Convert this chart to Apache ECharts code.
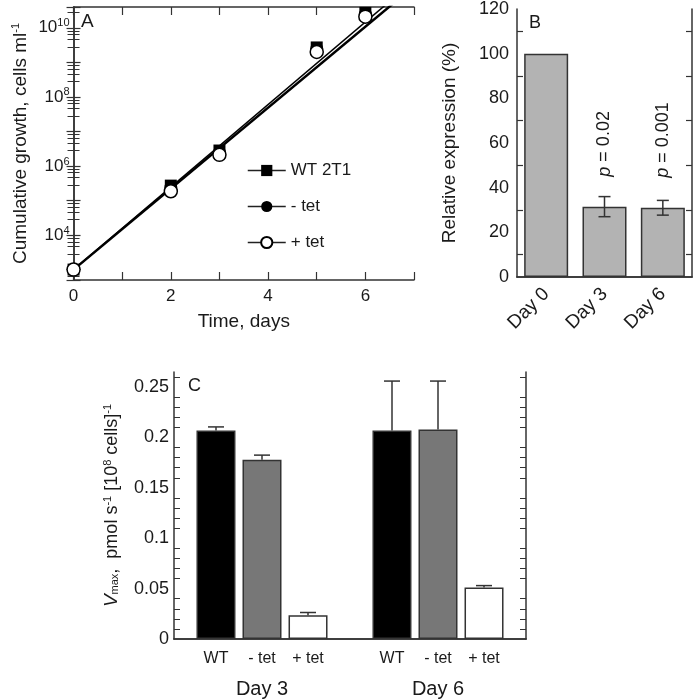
<!DOCTYPE html>
<html>
<head>
<meta charset="utf-8">
<script src="https://cdn.jsdelivr.net/npm/echarts@6/dist/echarts.min.js"></script>
<style>
  html, body { margin: 0; padding: 0; background: #fff; }
  #chart { width: 693px; height: 700px; }
</style>
</head>
<body>
<div id="chart"></div>
<script>
// panel A: cumulative growth (log scale)
var days = [0, 2, 3, 5, 6];
var wtCells = [1000, 2.7e5, 2.8e6, 2.7e9, 2.7e10];
var minusTetCells = [1000, 2.4e5, 2.5e6, 2.5e9, 2.5e10];
var plusTetCells = [1000, 1.85e5, 2.1e6, 2.0e9, 2.1e10];
// fit lines, end points
var fitUpper = [[0, 1000], [7, 2.3e11]];
var fitLower = [[0, 1000], [7, 1.6e11]];

// panel B: relative expression
var bDays = ['Day 0', 'Day 3', 'Day 6'];
var relExpr = [100, 31.5, 31];
var relErr = [0, 4.5, 3.3];
var pLabels = ['', '0.02', '0.001'];

// panel C: Vmax
var cDays = ['Day 3', 'Day 6'];
var vmaxWT = [0.207, 0.207];
var vmaxMinus = [0.178, 0.208];
var vmaxPlus = [0.0235, 0.051];
var errWT = [0.0035, 0.049];
var errMinus = [0.0045, 0.048];
var errPlus = [0.0028, 0.002];

var FONT = 'Liberation Sans, Arial, Helvetica, sans-serif';
var INK = '#1a1a1a';
var AX = '#333';

var myChart = echarts.init(document.getElementById('chart'));
var option;

function pairs(xs, ys) {
  return xs.map(function (x, i) { return [x, ys[i]]; });
}

// only 10^even gets a label
function evenPow10(v) {
  var l = Math.log10(v);
  var e = Math.round(l);
  return Math.abs(l - e) < 1e-6 && e % 2 === 0 ? e : null;
}

// error bar drawer, offset in px from category centre
function errBars(offset, capW, twoSided) {
  return function (params, api) {
    var x = api.value(0);
    var lo = api.coord([x, api.value(1)]);
    var hi = api.coord([x, api.value(2)]);
    var cx = lo[0] + offset;
    var st = { stroke: AX, lineWidth: 1.5 };
    var kids = [
      { type: 'line', shape: { x1: cx, y1: lo[1], x2: cx, y2: hi[1] }, style: st },
      { type: 'line', shape: { x1: cx - capW / 2, y1: hi[1], x2: cx + capW / 2, y2: hi[1] }, style: st }
    ];
    if (twoSided) {
      kids.push({ type: 'line', shape: { x1: cx - capW / 2, y1: lo[1], x2: cx + capW / 2, y2: lo[1] }, style: st });
    }
    return { type: 'group', children: kids };
  };
}

var supRich = {
  sup: { fontSize: 11, fontFamily: FONT, color: INK, padding: [0, 0, 9, 0] }
};

function axisBox(extra) {
  return Object.assign({
    axisLine: { show: true, lineStyle: { color: AX, width: 1.5 } },
    splitLine: { show: false }
  }, extra);
}

var logY = {
  type: 'log', logBase: 10, min: 500, max: 4e10, splitNumber: 4,
  gridIndex: 0
};

option = {
  animation: false,
  backgroundColor: '#fff',
  textStyle: { fontFamily: FONT, color: INK },
  title: [
    { text: 'A', left: 81, top: 12, padding: 0, textStyle: { fontSize: 19, fontWeight: 'normal', color: INK, fontFamily: FONT } },
    { text: 'B', left: 529, top: 14, padding: 0, textStyle: { fontSize: 18, fontWeight: 'normal', color: INK, fontFamily: FONT } },
    { text: 'C', left: 188, top: 377, padding: 0, textStyle: { fontSize: 18, fontWeight: 'normal', color: INK, fontFamily: FONT } }
  ],
  legend: {
    data: ['WT 2T1', '- tet', '+ tet'],
    orient: 'vertical',
    left: 242, top: 157,
    itemWidth: 38, itemHeight: 14, itemGap: 19,
    textStyle: { fontSize: 17, color: INK, fontFamily: FONT },
    lineStyle: { color: '#222', width: 1.5, opacity: 1 }
  },
  grid: [
    { left: 61, top: 7, width: 353, height: 273 },
    { left: 517, top: 7, width: 175, height: 270 },
    { left: 174, top: 372, width: 352, height: 267 }
  ],
  xAxis: [
    axisBox({
      type: 'value', gridIndex: 0, min: 0, max: 7, interval: 1,
      name: 'Time, days', nameLocation: 'middle', nameGap: 32,
      nameTextStyle: { fontSize: 19, color: INK, fontFamily: FONT },
      axisTick: { inside: true, length: 8, lineStyle: { color: AX, width: 1.2 } },
      axisLabel: {
        fontSize: 17, color: INK, margin: 8,
        formatter: function (v) { return (v % 2 === 0 && v < 7) ? String(v) : ''; }
      }
    }),
    axisBox({
      type: 'value', gridIndex: 0, min: 0, max: 7, interval: 1, position: 'top',
      axisTick: { inside: true, length: 8, lineStyle: { color: AX, width: 1.2 } },
      axisLabel: { show: false }
    }),
    axisBox({
      type: 'category', gridIndex: 1, data: bDays,
      axisTick: { inside: true, length: 6, lineStyle: { color: AX, width: 1.2 } },
      axisLabel: { rotate: 45, fontSize: 19, color: INK, margin: 14 }
    }),
    axisBox({
      type: 'category', gridIndex: 1, data: bDays, position: 'top',
      axisTick: { inside: true, length: 6, lineStyle: { color: AX, width: 1.2 } },
      axisLabel: { show: false }
    }),
    axisBox({
      type: 'category', gridIndex: 2, data: cDays,
      axisTick: { show: false },
      axisLabel: { fontSize: 20, color: INK, margin: 40 }
    }),
    axisBox({
      type: 'category', gridIndex: 2, data: cDays, position: 'top',
      axisTick: { show: false },
      axisLabel: { show: false }
    })
  ],
  yAxis: [
    axisBox(Object.assign({}, logY, {
      name: 'Cumulative growth, cells ml{sup|-1}', nameLocation: 'middle', nameGap: 43, nameRotate: 90,
      nameTextStyle: { fontSize: 19, color: INK, fontFamily: FONT, rich: supRich },
      axisTick: { inside: true, length: 7, lineStyle: { color: AX, width: 1.2 } },
      minorTick: { show: true, splitNumber: 5, length: 6, lineStyle: { color: AX, width: 1 } },
      axisLabel: {
        fontSize: 17, color: INK, margin: 4, showMinLabel: false, showMaxLabel: false,
        rich: supRich,
        formatter: function (v) {
          var e = evenPow10(v);
          return e === null ? '' : '10{sup|' + e + '}';
        }
      }
    })),
    axisBox(Object.assign({}, logY, {
      position: 'right',
      axisTick: { inside: true, length: 7, lineStyle: { color: AX, width: 1.2 } },
      minorTick: { show: true, splitNumber: 5, length: 6, lineStyle: { color: AX, width: 1 } },
      axisLabel: { show: false }
    })),
    axisBox({
      type: 'value', gridIndex: 1, min: 0, max: 120, interval: 20,
      name: 'Relative expression (%)', nameLocation: 'middle', nameGap: 58, nameRotate: 90,
      nameTextStyle: { fontSize: 19, color: INK, fontFamily: FONT },
      axisTick: { inside: true, length: 6, lineStyle: { color: AX, width: 1.2 } },
      minorTick: { show: true, splitNumber: 2, length: 6, lineStyle: { color: AX, width: 1.2 } },
      axisLabel: { fontSize: 18, color: INK, margin: 8 }
    }),
    axisBox({
      type: 'value', gridIndex: 1, min: 0, max: 120, interval: 20, position: 'right',
      axisTick: { inside: true, length: 6, lineStyle: { color: AX, width: 1.2 } },
      minorTick: { show: true, splitNumber: 2, length: 6, lineStyle: { color: AX, width: 1.2 } },
      axisLabel: { show: false }
    }),
    axisBox({
      type: 'value', gridIndex: 2, min: 0, max: 0.265, interval: 0.05,
      name: '{i|V}{sub|max},  pmol s{sup|-1} [10{sup|8} cells]{sup|-1}',
      nameLocation: 'middle', nameGap: 52, nameRotate: 90,
      nameTextStyle: {
        fontSize: 18, color: INK, fontFamily: FONT,
        rich: {
          i: { fontSize: 19, fontStyle: 'italic', fontFamily: FONT, color: INK },
          sub: { fontSize: 11, fontFamily: FONT, color: INK, padding: [6, 0, 0, 0] },
          sup: { fontSize: 11, fontFamily: FONT, color: INK, padding: [0, 0, 9, 0] }
        }
      },
      axisTick: { inside: true, length: 9, lineStyle: { color: AX, width: 1.2 } },
      minorTick: { show: true, splitNumber: 5, length: 6, lineStyle: { color: AX, width: 1 } },
      axisLabel: { fontSize: 18, color: INK, margin: 5, showMaxLabel: false }
    }),
    axisBox({
      type: 'value', gridIndex: 2, min: 0, max: 0.265, interval: 0.05, position: 'right',
      axisTick: { inside: true, length: 9, lineStyle: { color: AX, width: 1.2 } },
      minorTick: { show: true, splitNumber: 5, length: 6, lineStyle: { color: AX, width: 1 } },
      axisLabel: { show: false }
    })
  ],
  series: [
    // A: fit lines
    {
      name: 'fit1', type: 'line', xAxisIndex: 0, yAxisIndex: 0, data: fitUpper,
      symbol: 'none', silent: true, z: 1,
      lineStyle: { color: '#000', width: 1.5 }
    },
    {
      name: 'fit2', type: 'line', xAxisIndex: 0, yAxisIndex: 0, data: fitLower,
      symbol: 'none', silent: true, z: 1,
      lineStyle: { color: '#000', width: 2.5 }
    },
    // A: data points
    {
      name: 'WT 2T1', type: 'line', xAxisIndex: 0, yAxisIndex: 0,
      data: pairs(days, wtCells), symbol: 'rect', symbolSize: 12, z: 3,
      itemStyle: { color: '#000' }, lineStyle: { opacity: 0 }
    },
    {
      name: '- tet', type: 'line', xAxisIndex: 0, yAxisIndex: 0,
      data: pairs(days, minusTetCells), symbol: 'circle', symbolSize: 13, z: 4,
      itemStyle: { color: '#000' }, lineStyle: { opacity: 0 }
    },
    {
      name: '+ tet', type: 'line', xAxisIndex: 0, yAxisIndex: 0,
      data: pairs(days, plusTetCells), symbol: 'circle', symbolSize: 13, z: 5,
      itemStyle: { color: '#fff', borderColor: '#000', borderWidth: 1.5 }, lineStyle: { opacity: 0 }
    },
    // B: bars
    {
      name: 'relExpr', type: 'bar', xAxisIndex: 2, yAxisIndex: 2, data: relExpr,
      barWidth: 44,
      itemStyle: { color: '#b3b3b3', borderColor: AX, borderWidth: 1.5 },
      label: {
        show: true, position: 'top', distance: 30, rotate: 90,
        align: 'left', verticalAlign: 'middle',
        fontSize: 18, color: INK, fontFamily: FONT,
        formatter: function (p) {
          var t = pLabels[p.dataIndex];
          return t ? '{i|p} = ' + t : '';
        },
        rich: { i: { fontSize: 18, fontStyle: 'italic', fontFamily: FONT, color: INK } }
      }
    },
    {
      name: 'relErr', type: 'custom', xAxisIndex: 2, yAxisIndex: 2, z: 4,
      renderItem: errBars(0, 12, true),
      data: relExpr.map(function (v, i) {
        return [i, v - relErr[i], v + relErr[i]];
      }).filter(function (d, i) { return relErr[i] > 0; })
    },
    // C: grouped bars
    {
      name: 'WT', type: 'bar', xAxisIndex: 4, yAxisIndex: 4, data: vmaxWT,
      barWidth: 39, barGap: '18%',
      itemStyle: { color: '#000', borderColor: AX, borderWidth: 1.5 },
      label: { show: true, position: 'bottom', distance: 12, formatter: '{a}', fontSize: 16, color: INK, fontFamily: FONT }
    },
    {
      name: '- tet ', type: 'bar', xAxisIndex: 4, yAxisIndex: 4, data: vmaxMinus,
      barWidth: 39, barGap: '18%',
      itemStyle: { color: '#777', borderColor: AX, borderWidth: 1.5 },
      label: { show: true, position: 'bottom', distance: 12, formatter: '- tet', fontSize: 16, color: INK, fontFamily: FONT }
    },
    {
      name: '+ tet ', type: 'bar', xAxisIndex: 4, yAxisIndex: 4, data: vmaxPlus,
      barWidth: 39, barGap: '18%',
      itemStyle: { color: '#fff', borderColor: AX, borderWidth: 1.5 },
      label: { show: true, position: 'bottom', distance: 12, formatter: '+ tet', fontSize: 16, color: INK, fontFamily: FONT }
    },
    {
      name: 'errWT', type: 'custom', xAxisIndex: 4, yAxisIndex: 4, z: 4,
      renderItem: errBars(-46, 16, false),
      data: vmaxWT.map(function (v, i) { return [i, v, v + errWT[i]]; })
    },
    {
      name: 'errMinus', type: 'custom', xAxisIndex: 4, yAxisIndex: 4, z: 4,
      renderItem: errBars(0, 16, false),
      data: vmaxMinus.map(function (v, i) { return [i, v, v + errMinus[i]]; })
    },
    {
      name: 'errPlus', type: 'custom', xAxisIndex: 4, yAxisIndex: 4, z: 4,
      renderItem: errBars(46, 16, false),
      data: vmaxPlus.map(function (v, i) { return [i, v, v + errPlus[i]]; })
    }
  ]
};

option && myChart.setOption(option);
window.onresize = myChart.resize;
</script>
</body>
</html>
